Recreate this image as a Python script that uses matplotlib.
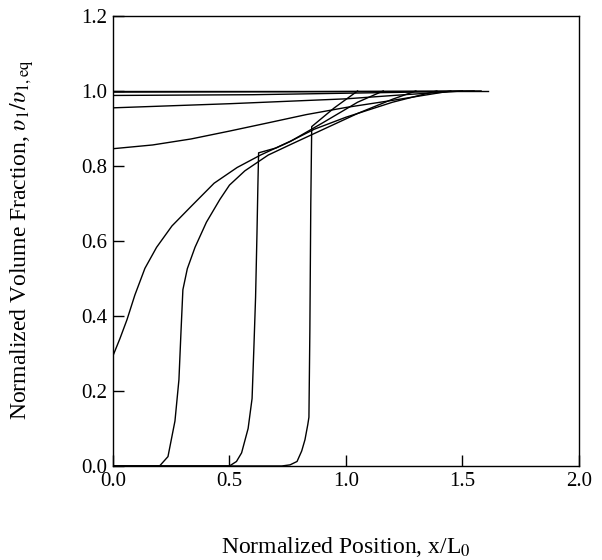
import matplotlib
matplotlib.use("Agg")
import matplotlib.pyplot as plt

plt.rcParams['font.family'] = ['Liberation Serif', 'DejaVu Serif']
plt.rcParams['mathtext.fontset'] = 'stix'

# profiles (x/L0, v1/v1,eq)
# fronts moving in from the right
front_084_x = [0.0, 0.725, 0.76, 0.79, 0.81, 0.824, 0.836, 0.841, 0.845, 0.849, 0.853, 0.95, 1.05]
front_084_y = [0.0, 0.0, 0.003, 0.012, 0.04, 0.07, 0.11, 0.13, 0.36, 0.70, 0.905, 0.955, 1.0]

front_062_x = [0.0, 0.50, 0.53, 0.552, 0.58, 0.597, 0.605, 0.612, 0.618, 0.622, 0.625, 0.70, 0.76, 0.90, 1.05, 1.16]
front_062_y = [0.0, 0.0, 0.012, 0.035, 0.10, 0.18, 0.32, 0.45, 0.62, 0.75, 0.835, 0.848, 0.865, 0.915, 0.97, 1.0]

front_029_x = [0.0, 0.20, 0.236, 0.266, 0.283, 0.292, 0.30, 0.319, 0.352, 0.401, 0.459, 0.50, 0.566, 0.666, 0.765, 0.897, 1.05, 1.20, 1.30]
front_029_y = [0.0, 0.0, 0.025, 0.12, 0.23, 0.36, 0.47, 0.526, 0.583, 0.65, 0.711, 0.749, 0.787, 0.829, 0.858, 0.896, 0.94, 0.978, 1.0]

# profile with the front at the left wall
wall_x = [0.0, 0.0, 0.03, 0.06, 0.094, 0.137, 0.187, 0.253, 0.335, 0.434, 0.533, 0.633, 0.765, 0.864, 1.0, 1.2, 1.39]
wall_y = [0.0, 0.294, 0.34, 0.39, 0.456, 0.527, 0.583, 0.64, 0.692, 0.754, 0.796, 0.829, 0.867, 0.898, 0.93, 0.97, 1.0]

# later profiles, starting at x = 0
late_x = [
    [0.0, 0.17, 0.335, 0.5, 0.666, 0.83, 1.0, 1.2, 1.45],
    [0.0, 0.5, 1.0, 1.25, 1.5],
    [0.0, 0.6, 1.2, 1.55],
    [0.0, 0.8, 1.58],
    [0.0, 1.61],
]
late_y = [
    [0.846, 0.856, 0.872, 0.893, 0.915, 0.937, 0.956, 0.975, 1.0],
    [0.955, 0.966, 0.979, 0.99, 1.0],
    [0.988, 0.99, 0.996, 1.0],
    [0.997, 0.998, 1.0],
    [1.0, 1.0],
]

fig = plt.figure(figsize=(6.02, 5.60), dpi=100)
ax = fig.add_axes([0.1877, 0.1679, 0.774, 0.8036])

lw = 1.0
ax.plot(front_084_x, front_084_y, color='black', lw=lw)
ax.plot(front_062_x, front_062_y, color='black', lw=lw)
ax.plot(front_029_x, front_029_y, color='black', lw=lw)
ax.plot(wall_x, wall_y, color='black', lw=lw)
for xs, ys in zip(late_x, late_y):
    ax.plot(xs, ys, color='black', lw=lw)

ax.set_xlim(0, 2.0)
ax.set_ylim(0, 1.2)
ax.set_xticks([0.0, 0.5, 1.0, 1.5, 2.0])
ax.set_yticks([0.0, 0.2, 0.4, 0.6, 0.8, 1.0, 1.2])
ax.set_xticklabels(['0.0', '0.5', '1.0', '1.5', '2.0'])
ax.set_yticklabels(['0.0', '0.2', '0.4', '0.6', '0.8', '1.0', '1.2'])
ax.tick_params(direction='in', length=8, width=1, labelsize=15)
ax.tick_params(axis='x', pad=4)
ax.tick_params(axis='y', pad=4)
for s in ax.spines.values():
    s.set_linewidth(1.0)

ax.set_xlabel('Normalized Position, x/L$_0$', fontsize=17)
ax.xaxis.set_label_coords(0.5, -0.153)
ax.set_ylabel(r'Normalized Volume Fraction, $\upsilon_1/\upsilon_{1,\mathrm{eq}}$', fontsize=17)
ax.yaxis.set_label_coords(-0.165, 0.502)

fig.savefig('out.png', dpi=100)
